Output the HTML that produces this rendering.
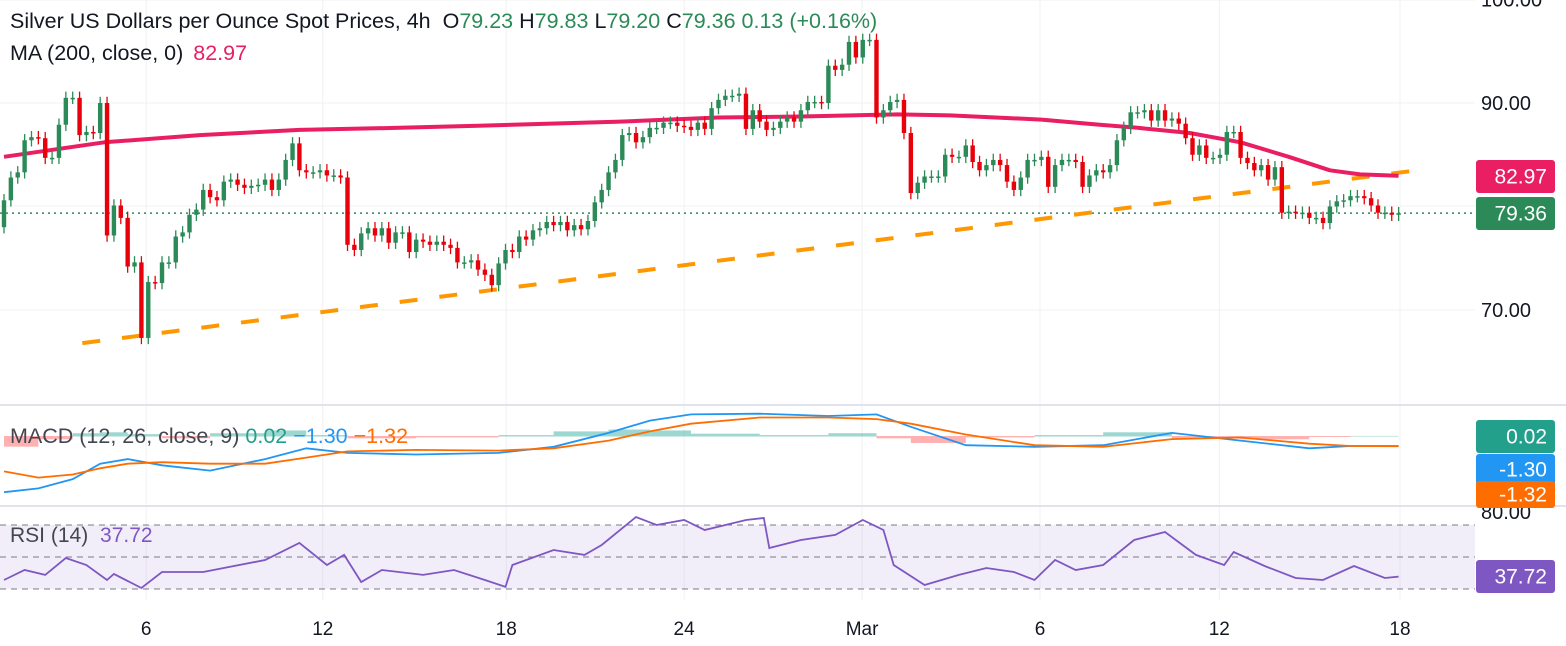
<!DOCTYPE html>
<html><head><meta charset="utf-8"><style>
body{margin:0;background:#fff;font-family:"Liberation Sans",sans-serif;}
svg{display:block}
</style></head><body>
<svg id="c" width="1566" height="646" xmlns="http://www.w3.org/2000/svg"></svg>
<script>
const closes=[80.6,82.8,83.3,86.4,86.7,86.6,84.7,84.7,87.9,90.5,90.5,86.9,87.2,87.1,90.0,77.2,80.1,78.9,74.2,74.6,67.3,72.7,72.6,74.6,74.6,77.1,77.5,79.2,79.7,81.6,80.9,80.6,82.4,82.6,82.1,81.8,82.0,82.1,82.6,81.6,82.6,84.5,86.1,83.5,83.3,83.3,83.5,83.0,83.0,82.8,76.3,75.8,77.4,77.9,77.2,77.9,76.5,77.5,77.5,75.6,76.8,76.6,76.3,76.6,76.3,76.0,74.6,74.6,
74.8,73.9,73.4,72.4,74.5,75.8,75.6,77.1,76.8,77.7,77.9,78.5,78.2,78.5,77.7,78.2,77.8,78.6,80.4,81.6,83.3,84.5,86.9,87.1,86.2,86.7,87.6,87.6,88.1,88.1,87.8,87.7,87.4,88.1,87.5,89.5,90.3,90.7,90.7,90.9,87.5,89.3,88.2,87.4,87.6,88.2,88.6,88.2,89.3,90.1,90.1,90.0,93.6,93.2,93.7,95.9,94.4,96.1,96.1,88.6,89.3,90.1,90.3,87.1,81.3,82.3,82.9,82.9,
82.9,85.0,84.8,84.8,85.9,84.3,83.5,84.0,84.5,84.0,82.4,81.6,82.8,84.5,84.5,84.8,81.9,84.0,84.5,84.5,84.3,81.9,83.0,83.5,83.3,84.0,86.4,87.6,89.1,89.1,89.3,88.3,89.3,88.3,88.5,88.0,86.6,85.0,85.9,84.7,84.7,85.0,87.2,87.2,84.7,84.2,83.5,84.0,82.6,83.8,79.4,79.5,79.4,79.4,78.9,78.9,78.4,80.0,80.5,80.6,81.0,81.0,80.8,80.1,79.4,79.4,79.2,79.36];
const firstOpen=78.0;
const maIdx=[0,14.6,28.5,43,57.6,69,89.7,104,116,130,137.7,151,159.5,165,172.6,180,187,193,197.4,203];
const maVal=[84.8,86.2,86.9,87.4,87.6,87.8,88.2,88.6,88.7,88.9,88.8,88.4,87.9,87.6,87.1,86.2,84.8,83.5,83.1,82.97];
const trendIdx=[11.4,205.7];
const trendVal=[66.8,83.5];
const macdIdx=[0,5,10,14,18,23,30,38,44,50,60,72,80,88,94,100,110,120,127,132,140,150,160,170,180,190,196,203];
const macdVal=[-7.3,-6.8,-5.6,-3.6,-3.0,-3.8,-4.5,-3.0,-1.6,-2.2,-2.4,-2.2,-1.4,0.4,2.0,2.8,2.9,2.6,2.8,1.2,-1.2,-1.4,-1.2,0.4,-0.6,-1.6,-1.3,-1.30];
const sigVal=[-4.6,-5.4,-5.0,-4.2,-3.6,-3.4,-3.6,-3.6,-2.8,-2.0,-1.8,-1.9,-1.6,-0.6,0.6,1.6,2.4,2.4,2.2,1.6,0.2,-1.2,-1.4,-0.4,-0.2,-1.0,-1.3,-1.32];
const rsiIdx=[0,3,6,9,12,15,16,20,23,29,38,43,47,49.5,52,55,61,65.5,70,73,74,80,84.5,87,92,95,99,102,108,110.6,111.4,116,121,125,128,129.5,134,139,143,147,150,153,156,160,164.5,169,173.5,177.6,179,183.5,188,192,196.5,201,203];
const rsiVal=[35.6,41.9,38.8,49.4,45,35.6,39.4,30.6,40.6,40.6,48.1,58.8,45,51.3,34.4,41.9,38.8,41.9,35.6,31.3,45,54.4,51.3,57.5,75,70,73.1,66.9,73.1,74.4,55.6,60.6,63.8,73.1,66.9,45,32.5,38.8,43.1,40.6,35.6,48.1,41.9,45,60.6,65.6,51.3,45,53.1,44.4,36.9,35.6,44.4,36.9,37.72];
const histVal=[-3,-2.2,-0.6,0.6,0.8,0.4,-0.4,0.6,1.2,0.2,-0.4,-0.2,0.2,1,1.4,1.2,0.5,0.2,0.6,-0.4,-1.4,-0.2,0.2,0.8,-0.4,-0.6,-0.1,0.02];
const priceTicks=[100,90,70];
const dayLabels=["6","12","18","24","Mar","6","12","18"];
const dayIdx=[20.7,46.4,73.1,99,124.9,150.8,176.9,203.2];

const svg=document.getElementById('c');const NS="http://www.w3.org/2000/svg";
function el(t,a,p){const e=document.createElementNS(NS,t);for(const k in a)e.setAttribute(k,a[k]);(p||svg).appendChild(e);return e;}
const X=i=>4+i*6.87;
const Y=p=>103+(90-p)*10.35;
const YM=v=>436-v*7.7;
const YR=v=>557-(v-50)*1.6;
const G='#2b8a57',R='#e8000b';
dayIdx.forEach(i=>{const l=el('line',{x1:X(i),x2:X(i),y1:0,y2:600,stroke:'#f0f1f3','stroke-width':1});});
[0,103,206,310].forEach(y=>{const l=el('line',{x1:0,x2:1475,y1:y,y2:y,stroke:'#f0f1f3'});});
[405,506].forEach(y=>{const l=el('line',{x1:0,x2:1566,y1:y,y2:y,stroke:'#e0e3eb','stroke-width':2});});
const band=el('rect',{x:0,y:YR(70),width:1475,height:YR(30)-YR(70),fill:'#7e57c2','fill-opacity':0.1});

[70,50,30].forEach(v=>{const l=el('line',{x1:0,x2:1475,y1:YR(v),y2:YR(v),stroke:'#787b86','stroke-dasharray':'6 5'});});
const lp=el('line',{x1:0,x2:1475,y1:Y(79.36),y2:Y(79.36),stroke:G,'stroke-dasharray':'2 4','stroke-width':1.5});

const tl=el('line',{x1:X(trendIdx[0]),y1:Y(trendVal[0]),x2:X(trendIdx[1]),y2:Y(trendVal[1]),stroke:'#ff9800','stroke-width':4,'stroke-dasharray':'18 22'});

function interpPath(idx,val,fy){let d='';for(let i=0;i<idx.length;i++)d+=(i?'L':'M')+X(idx[i]).toFixed(1)+','+fy(val[i]).toFixed(1);return d;}
const ma=el('path',{d:interpPath(maIdx,maVal,Y),fill:'none',stroke:'#e91e63','stroke-width':4,'stroke-linejoin':'round'});

let prev=firstOpen;
closes.forEach((c,i)=>{const o=prev;prev=c;const col=c>=o?G:R;const x=X(i);
 const hi=Math.max(o,c)+0.6,lo=Math.min(o,c)-0.6;
 const g=el('g',{});
 el('line',{x1:x,x2:x,y1:Y(hi),y2:Y(lo),stroke:col,'stroke-width':1.3},g);
 const t=Math.min(Y(o),Y(c));el('rect',{x:x-2.2,y:t,width:4.4,height:Math.max(1.5,Math.abs(Y(o)-Y(c))),fill:col},g);
});
histVal.forEach((h,i)=>{if(i==0)return;const x0=X(macdIdx[i-1]),x1=X(macdIdx[i]);
 const r=el('rect',{x:x0,y:Math.min(YM(0),YM(h*0.6)),width:x1-x0,height:Math.abs(YM(h*0.6)-YM(0))+0.5,fill:h>=0?'#26a69a':'#ff5252','fill-opacity':0.45});
 });
const mline=el('path',{d:interpPath(macdIdx,macdVal,YM),fill:'none',stroke:'#2196f3','stroke-width':1.8});

const sline=el('path',{d:interpPath(macdIdx,sigVal,YM),fill:'none',stroke:'#ff6d00','stroke-width':1.8});

const rl=el('path',{d:interpPath(rsiIdx,rsiVal,YR),fill:'none',stroke:'#7e57c2','stroke-width':1.8});

function txt(x,y,s,a,name){const t=el('text',Object.assign({x:x,y:y,'font-family':'Liberation Sans, sans-serif'},a));t.textContent=s;return t;}
priceTicks.forEach(p=>txt(1481,Y(p)+7,p.toFixed(2),{'font-size':20,fill:'#131722'},'price-tick'));
dayLabels.forEach((s,i)=>txt(X(dayIdx[i]),635,s,{'font-size':19,fill:'#131722','text-anchor':'middle'},'date-tick'));
txt(1481,519,'80.00',{'font-size':20,fill:'#131722'},'rsi-tick');
function badge(y,h,col,s,name){const r=el('rect',{x:1476,y:y,width:79,height:h,rx:3,fill:col});txt(1547,y+h/2+7,s,{'font-size':21,fill:'#fff','text-anchor':'end'},name);}
badge(160,33,'#e91e63','82.97','ma-badge');
badge(197,33,'#2b8a57','79.36','price-badge');
badge(420,33,'#22a08c','0.02','hist-badge');
badge(454,31,'#2196f3','-1.30','macd-badge');
badge(481,27,'#ff6d00','-1.32','signal-badge');
badge(560,33,'#7e57c2','37.72','rsi-badge');
const h=txt(10,28,'',{'font-size':21.5,fill:'#131722'},'chart-title');
h.innerHTML='Silver US Dollars per Ounce Spot Prices, 4h <tspan dx="6">O</tspan><tspan fill="#2b8a57">79.23</tspan> <tspan>H</tspan><tspan fill="#2b8a57">79.83</tspan> <tspan>L</tspan><tspan fill="#2b8a57">79.20</tspan> <tspan>C</tspan><tspan fill="#2b8a57">79.36 0.13 (+0.16%)</tspan>';
const m=txt(10,60,'',{'font-size':21.5,fill:'#131722'},'ma-legend');
m.innerHTML='MA (200, close, 0) <tspan fill="#e91e63" dx="4">82.97</tspan>';
const md=txt(10,443,'',{'font-size':21.5,fill:'#434651'},'macd-legend');
md.innerHTML='MACD (12, 26, close, 9) <tspan fill="#22a08c">0.02</tspan> <tspan fill="#2196f3">−1.30</tspan> <tspan fill="#ff6d00">−1.32</tspan>';
const rs=txt(10,542,'',{'font-size':21,fill:'#434651'},'rsi-legend');
rs.innerHTML='RSI (14) <tspan fill="#7e57c2" dx="6">37.72</tspan>';
</script>
</body></html>
